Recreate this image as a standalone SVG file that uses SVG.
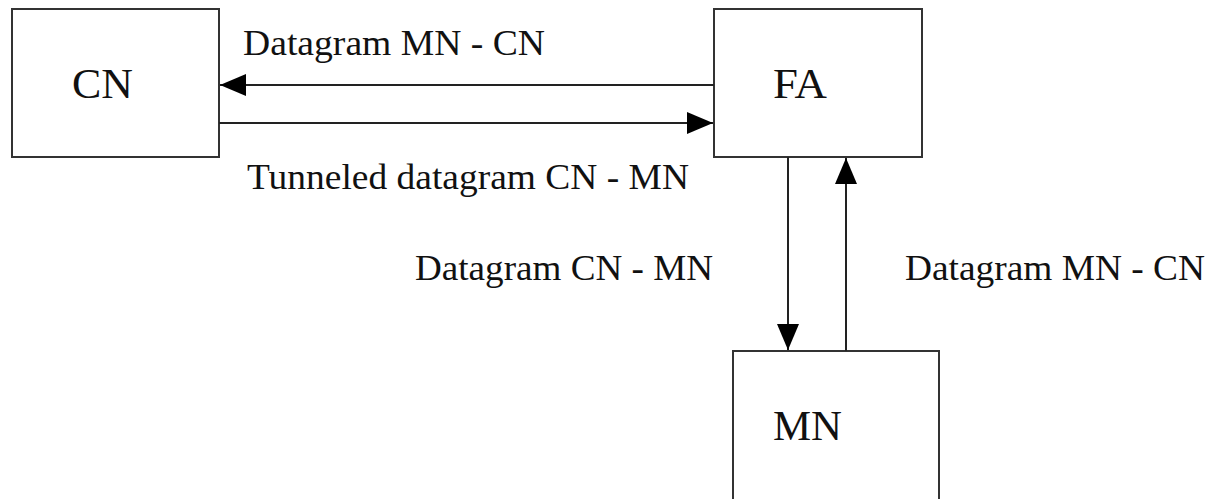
<svg xmlns="http://www.w3.org/2000/svg" width="1224" height="499" viewBox="0 0 1224 499">
  <style>
    text { font-family: "Liberation Serif", "Times New Roman", Times, Tinos, "Noto Serif", "DejaVu Serif", FreeSerif, serif; fill: #111111; }
    .box { fill: #ffffff; stroke: #333333; stroke-width: 2; }
    .name { font-size: 42px; }
    .label { font-size: 35px; }
    .link { stroke: #222222; stroke-width: 2; fill: none; }
  </style>
  <defs>
    <marker id="arrow" viewBox="0 0 26 22" refX="26" refY="11" markerWidth="26" markerHeight="22" markerUnits="userSpaceOnUse" orient="auto">
      <path d="M0,0 L26,11 L0,22 Z" fill="#000000"/>
    </marker>
  </defs>
  <rect width="1224" height="499" fill="#ffffff"/>

  <g id="node-cn">
    <rect class="box" x="12" y="9" width="207" height="148"/>
    <text class="name" x="72" y="98" textLength="61" lengthAdjust="spacingAndGlyphs">CN</text>
  </g>

  <g id="node-fa">
    <rect class="box" x="714" y="9" width="208" height="148"/>
    <text class="name" x="773" y="98" textLength="54" lengthAdjust="spacingAndGlyphs">FA</text>
  </g>

  <g id="node-mn">
    <rect class="box" x="733" y="351" width="206" height="160"/>
    <text class="name" x="773" y="440" textLength="69" lengthAdjust="spacingAndGlyphs">MN</text>
  </g>

  <g id="connectors">
    <line class="link" x1="714" y1="85" x2="220" y2="85" marker-end="url(#arrow)"/>
    <line class="link" x1="219" y1="123" x2="713" y2="123" marker-end="url(#arrow)"/>
    <line class="link" x1="788" y1="157" x2="788" y2="350" marker-end="url(#arrow)"/>
    <line class="link" x1="846" y1="351" x2="846" y2="158" marker-end="url(#arrow)"/>
  </g>

  <g id="labels">
    <text class="label" x="243" y="55" textLength="302" lengthAdjust="spacingAndGlyphs">Datagram MN - CN</text>
    <text class="label" x="247" y="189" textLength="442" lengthAdjust="spacingAndGlyphs">Tunneled datagram CN - MN</text>
    <text class="label" x="415" y="280" textLength="298" lengthAdjust="spacingAndGlyphs">Datagram CN - MN</text>
    <text class="label" x="905" y="280" textLength="300" lengthAdjust="spacingAndGlyphs">Datagram MN - CN</text>
  </g>
</svg>
